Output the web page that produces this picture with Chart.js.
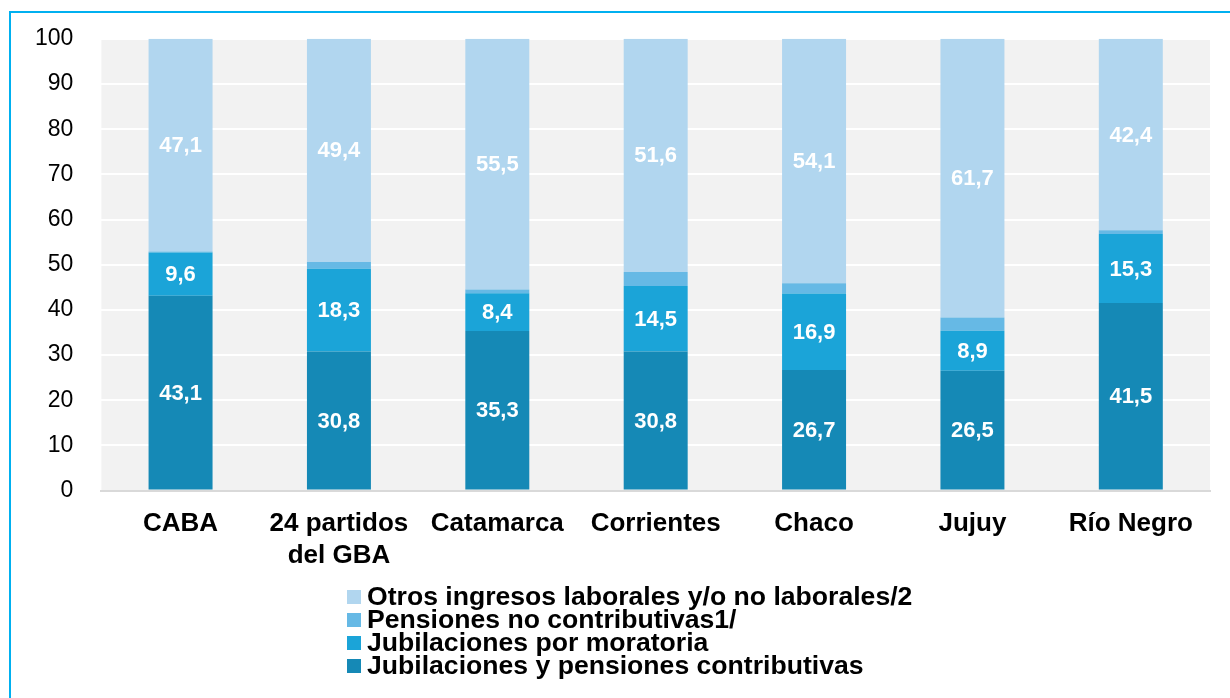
<!DOCTYPE html>
<html lang="es">
<head>
<meta charset="UTF-8">
<title>Ingresos</title>
<script src="https://cdn.jsdelivr.net/npm/chart.js@4/dist/chart.umd.min.js"></script>
<style>
    body { margin: 0; background: #fff; font-family: Arial, "Liberation Sans", sans-serif; }
    .frame { position: absolute; left: 9px; top: 11px; width: 1260px; height: 720px; border: 2px solid #00b0f0; }
    .wrap { position: absolute; left: 0; top: -3px; width: 1230px; height: 603px; }
    #leyenda { position: absolute; left: 347px; top: 585px; }
    #leyenda div { display: flex; align-items: center; height: 23px; font-weight: bold; font-size: 26.6px; color: #000; white-space: nowrap; }
    #leyenda span { display: inline-block; width: 14px; height: 14px; margin-right: 6px; }
</style>
</head>
<body>
<div class="frame"></div>
<div class="wrap"><canvas id="grafico"></canvas></div>
<div id="leyenda"></div>
<script>
    const regiones = [['CABA'], ['24 partidos', 'del GBA'], ['Catamarca'], ['Corrientes'], ['Chaco'], ['Jujuy'], ['Río Negro']];
    const contributivas = [43.1, 30.8, 35.3, 30.8, 26.7, 26.5, 41.5];
    const moratoria = [9.6, 18.3, 8.4, 14.5, 16.9, 8.9, 15.3];
    const noContributivas = [0.2, 1.5, 0.8, 3.1, 2.3, 2.9, 0.8];
    const otros = [47.1, 49.4, 55.5, 51.6, 54.1, 61.7, 42.4];

    const fuente = 'Arial, "Liberation Sans"';

    const fondo = {
        id: 'fondo',
        beforeDraw(chart) {
            const a = chart.chartArea, ctx = chart.ctx;
            ctx.save();
            ctx.fillStyle = '#f2f2f2';
            ctx.fillRect(a.left, a.top, a.right - a.left, a.bottom - a.top);
            ctx.restore();
        }
    };

    const etiquetas = {
        id: 'etiquetas',
        afterDatasetsDraw(chart) {
            const ctx = chart.ctx;
            ctx.save();
            ctx.font = 'bold 22px ' + fuente;
            ctx.fillStyle = '#fff';
            ctx.textAlign = 'center';
            ctx.textBaseline = 'middle';
            chart.data.datasets.forEach((ds, i) => {
                if (!ds.mostrar) return;
                chart.getDatasetMeta(i).data.forEach((bar, j) => {
                    const y = (bar.y + bar.base) / 2;
                    ctx.fillText(ds.data[j].toFixed(1).replace('.', ','), bar.x, y + 1);
                });
            });
            ctx.restore();
        }
    };

    const chart = new Chart('grafico', {
        type: 'bar',
        data: {
            labels: regiones,
            datasets: [
                { label: 'Jubilaciones y pensiones contributivas', data: contributivas, backgroundColor: '#1589b6', mostrar: true },
                { label: 'Jubilaciones por moratoria', data: moratoria, backgroundColor: '#1ba4d8', mostrar: true },
                { label: 'Pensiones no contributivas1/', data: noContributivas, backgroundColor: '#66b9e5', mostrar: false },
                { label: 'Otros ingresos laborales y/o no laborales/2', data: otros, backgroundColor: '#b1d6ef', mostrar: true }
            ]
        },
        options: {
            responsive: true,
            maintainAspectRatio: false,
            animation: false,
            layout: { padding: { left: 7, right: 20, top: 24, bottom: 11 } },
            datasets: { bar: { barPercentage: 0.404, categoryPercentage: 1, borderWidth: 0 } },
            plugins: { legend: { display: false }, tooltip: { enabled: false } },
            scales: {
                x: {
                    stacked: true,
                    grid: { display: false, drawTicks: false },
                    border: { color: '#d9d9d9', width: 2 },
                    ticks: { color: '#000', font: { family: fuente, size: 26, weight: 'bold', lineHeight: 1.2 }, padding: 18, maxRotation: 0, autoSkip: false }
                },
                y: {
                    stacked: true,
                    min: 0, max: 100,
                    ticks: { stepSize: 10, color: '#000', font: { family: fuente, size: 23 }, padding: 28 },
                    grid: { color: '#ffffff', lineWidth: 2, drawTicks: false },
                    border: { display: false }
                }
            }
        },
        plugins: [fondo, etiquetas]
    });

    const leyenda = document.getElementById('leyenda');
    chart.data.datasets.slice().reverse().forEach(ds => {
        const d = document.createElement('div');
        d.innerHTML = '<span style="background:' + ds.backgroundColor + '"></span>' + ds.label;
        leyenda.appendChild(d);
    });
</script>
</body>
</html>
